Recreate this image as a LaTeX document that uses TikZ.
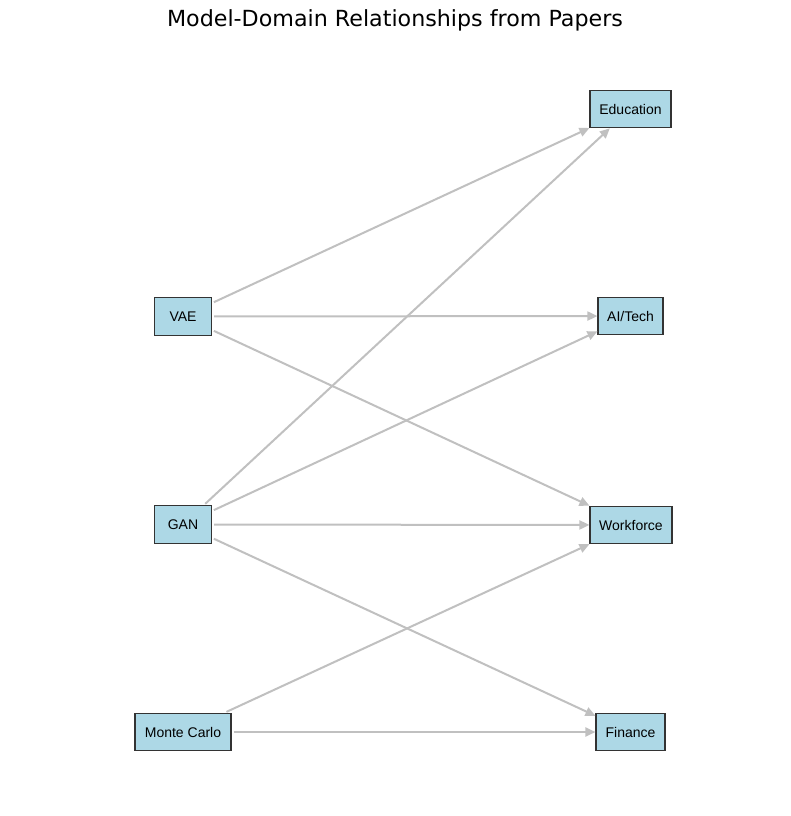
\documentclass[tikz,border=0pt]{standalone}
\usepackage{fontspec}
\setmainfont{Liberation Sans}
\newfontfamily\titlefont{DejaVu Sans}
\usetikzlibrary{arrows.meta}
\definecolor{boxfill}{HTML}{ADD8E6}
\definecolor{boxline}{HTML}{333333}
\definecolor{edgecol}{RGB}{192,192,192}
\tikzset{
  box/.style={draw=boxline, fill=boxfill, line width=1.1pt, inner sep=0pt,
    minimum height=37.5pt, font=\fontsize{14}{16}\selectfont, text=black},
  link/.style={draw=edgecol, line width=2pt,
    -{Triangle[length=10pt,width=9pt]}, shorten <=2pt},
}
\begin{document}
\begin{tikzpicture}[x=1pt,y=1pt]
\useasboundingbox (0,0) rectangle (790,-816);
\node[font=\titlefont\fontsize{22.2}{26}\selectfont] (title) at (395,-20.5) {Model-Domain Relationships from Papers};
\node[box, minimum width=57pt] (vae) at (183,-316.5) {VAE};
\node[box, minimum width=57pt] (gan) at (183,-524.5) {GAN};
\node[box, minimum width=96pt] (mc) at (183,-732) {Monte Carlo};
\node[box, minimum width=81pt] (edu) at (630.5,-109) {Education};
\node[box, minimum width=65pt] (ai) at (630.5,-316) {AI/Tech};
\node[box, minimum width=82pt] (wf) at (631,-525) {Workforce};
\node[box, minimum width=69pt] (fin) at (630.5,-732) {Finance};
\draw[link] (vae) -- (edu);
\draw[link] (vae) -- (ai);
\draw[link] (vae) -- (wf);
\draw[link] (gan) -- (edu);
\draw[link] (gan) -- (ai);
\draw[link] (gan) -- (wf);
\draw[link] (gan) -- (fin);
\draw[link] (mc) -- (wf);
\draw[link] (mc) -- (fin);
\end{tikzpicture}
\end{document}
